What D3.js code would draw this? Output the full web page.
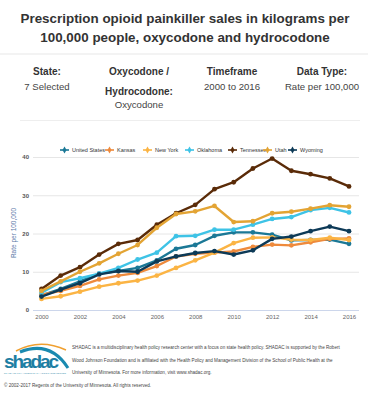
<!DOCTYPE html>
<html>
<head>
<meta charset="utf-8">
<script src="https://cdn.jsdelivr.net/npm/d3@7"></script>
<style>
  body { margin: 0; background: #fff; font-family: "Liberation Sans", Arial, sans-serif; }
  svg { display: block; }
</style>
</head>
<body>
<div id="main"></div>
<script>
const W = 368, H = 402;

const years = d3.range(2000, 2017);
const series = ["United States", "Kansas", "New York", "Oklahoma", "Tennessee", "Utah", "Wyoming"];
const colors = ["#1b7896", "#ee8a3c", "#fbb444", "#3ec3e6", "#5a2b08", "#e3a434", "#0d3a57"];

const usValues =   [3.8, 5.5, 7.5, 9.5, 10.2, 11.0, 13.0, 16.0, 17.0, 19.4, 20.3, 20.3, 19.7, 18.2, 18.3, 18.4, 17.3];
const ksValues =   [4.0, 5.0, 6.3, 8.0, 9.0, 9.7, 11.5, 14.0, 14.7, 15.0, 15.3, 16.5, 17.1, 16.9, 17.7, 18.6, 18.7];
const nyValues =   [2.9, 3.6, 4.8, 6.1, 7.0, 7.7, 9.0, 11.0, 13.0, 15.0, 17.5, 18.9, 19.0, 18.4, 18.3, 18.9, 18.3];
const okValues =   [4.5, 7.3, 8.3, 9.5, 11.0, 13.2, 15.0, 19.3, 19.4, 21.0, 21.0, 22.3, 23.8, 24.3, 26.1, 26.7, 25.5];
const tnValues =   [5.5, 9.0, 11.2, 14.5, 17.3, 18.3, 22.3, 25.3, 27.5, 31.6, 33.4, 37.0, 39.6, 36.4, 35.5, 34.4, 32.3];
const utValues =   [5.0, 7.5, 10.0, 12.2, 14.7, 17.0, 21.5, 25.1, 25.8, 27.2, 23.0, 23.2, 25.3, 25.7, 26.5, 27.4, 27.0];
const wyValues =   [3.5, 5.3, 7.0, 9.3, 10.2, 10.0, 12.7, 14.0, 14.9, 15.4, 14.5, 15.6, 18.6, 19.2, 20.6, 21.8, 20.6];
const allValues = [usValues, ksValues, nyValues, okValues, tnValues, utValues, wyValues];

const yTicks = [0, 10, 20, 30, 40];
const xTicks = d3.range(2000, 2017, 2);

const svg = d3.select("#main").append("svg").attr("width", W).attr("height", H);

// title
const title = svg.append("text").attr("text-anchor", "middle").attr("fill", "#333")
  .style("font-weight", "bold").style("font-size", "13.4px");
title.append("tspan").attr("x", W / 2 + 1).attr("y", 23).text("Prescription opioid painkiller sales in kilograms per");
title.append("tspan").attr("x", W / 2 + 1).attr("y", 42).text("100,000 people, oxycodone and hydrocodone");

svg.append("rect").attr("x", 0).attr("y", 53).attr("width", W).attr("height", 2).attr("fill", "#f3f3f3");
svg.append("line").attr("x1", 20).attr("x2", W - 8).attr("y1", 120.5).attr("y2", 120.5)
  .attr("stroke", "#eee");

// filter summary
const filters = [
  {x: 47, head: ["State:"], val: "7 Selected"},
  {x: 139, head: ["Oxycodone /", "Hydrocodone:"], val: "Oxycodone"},
  {x: 232, head: ["Timeframe"], val: "2000 to 2016"},
  {x: 322, head: ["Data Type:"], val: "Rate per 100,000"}
];
filters.forEach(function(f) {
  f.head.forEach(function(h, i) {
    svg.append("text").attr("x", f.x).attr("y", 75 + i * 20).attr("text-anchor", "middle")
      .attr("fill", "#333").style("font-weight", "bold").style("font-size", "10px").text(h);
  });
  svg.append("text").attr("x", f.x).attr("y", f.head.length > 1 ? 108 : 90).attr("text-anchor", "middle")
    .attr("fill", "#444").style("font-size", "9.6px").text(f.val);
});

// chart
const x = d3.scaleLinear().domain([2000, 2016]).range([41.5, 349]);
const y = d3.scaleLinear().domain([0, 40]).range([310, 157]);

const grid = svg.append("g");
grid.selectAll("line").data(yTicks).enter().append("line")
  .attr("x1", 33).attr("x2", 359)
  .attr("y1", d => y(d) + 0.5).attr("y2", d => y(d) + 0.5)
  .attr("stroke", d => d === 0 ? "#ccd6eb" : "#e6e6e6");

const yAxis = svg.append("g").attr("transform", "translate(29,0)")
  .call(d3.axisLeft(y).tickValues(yTicks).tickSize(0).tickPadding(0));
yAxis.select(".domain").remove();
yAxis.selectAll("text").attr("fill", "#555").style("font-size", "6px").style("font-weight", "bold");

const xAxis = svg.append("g").attr("transform", "translate(0,310)")
  .call(d3.axisBottom(x).tickValues(xTicks).tickFormat(d3.format("d")).tickSize(0).tickPadding(5));
xAxis.select(".domain").remove();
xAxis.selectAll("text").attr("fill", "#666").style("font-size", "6px");

svg.append("text").attr("transform", "translate(16,233) rotate(-90)").attr("text-anchor", "middle")
  .attr("fill", "#5b7aa8").style("font-size", "6.5px").text("Rate per 100,000");

const line = d3.line().x((d, i) => x(years[i])).y(d => y(d));
const lines = svg.append("g");
series.forEach(function(s, si) {
  const g = lines.append("g");
  g.append("path").datum(allValues[si]).attr("d", line)
    .attr("fill", "none").attr("stroke", colors[si]).attr("stroke-width", 2.4)
    .attr("stroke-linejoin", "round");
  g.selectAll("circle").data(allValues[si]).enter().append("circle")
    .attr("cx", (d, i) => x(years[i])).attr("cy", d => y(d)).attr("r", 2.4)
    .attr("fill", colors[si]);
});

// legend
const legendX = [60, 105, 143, 185, 228, 263, 288];
const legend = svg.append("g").selectAll("g").data(series).enter().append("g")
  .attr("transform", (d, i) => `translate(${legendX[i]},150)`);
legend.append("line").attr("x1", 0).attr("x2", 9).attr("stroke", (d, i) => colors[i]).attr("stroke-width", 1.6);
legend.append("path").attr("d", d3.symbol(d3.symbolDiamond, 14)).attr("transform", "translate(4.5,0)")
  .attr("fill", (d, i) => colors[i]);
legend.append("text").attr("x", 12).attr("y", 2).attr("fill", "#333").style("font-size", "5.5px").text(d => d);

// footer
const logo = svg.append("g").attr("transform", "translate(4,342)");
logo.append("path").attr("d", "M12,9 Q36,-4 62,8").attr("fill", "none").attr("stroke", "#f0a030").attr("stroke-width", 1.5);
logo.append("path").attr("d", "M16,10 Q46,-2 64,26").attr("fill", "none").attr("stroke", "#1a8ab0").attr("stroke-width", 3);
logo.append("text").attr("x", 0).attr("y", 26).attr("fill", "#1d7ea3").style("font-size", "19px")
  .style("font-weight", "bold").attr("textLength", 55).text("shadac");
logo.append("text").attr("x", 0).attr("y", 32).attr("fill", "#1d7ea3").style("font-size", "2px")
  .attr("textLength", 62).text("STATE HEALTH ACCESS DATA ASSISTANCE CENTER");

const footLines = [
  "SHADAC is a multidisciplinary health policy research center with a focus on state health policy. SHADAC is supported by the Robert",
  "Wood Johnson Foundation and is affiliated with the Health Policy and Management Division of the School of Public Health at the",
  "University of Minnesota. For more information, visit www.shadac.org."
];
footLines.forEach(function(t, i) {
  svg.append("text").attr("x", 72).attr("y", 349 + i * 12.5).attr("fill", "#444")
    .style("font-size", "4.6px").text(t);
});
svg.append("text").attr("x", 4).attr("y", 387).attr("fill", "#444").style("font-size", "4.6px")
  .text("© 2002-2017 Regents of the University of Minnesota. All rights reserved.");
</script>
</body>
</html>
